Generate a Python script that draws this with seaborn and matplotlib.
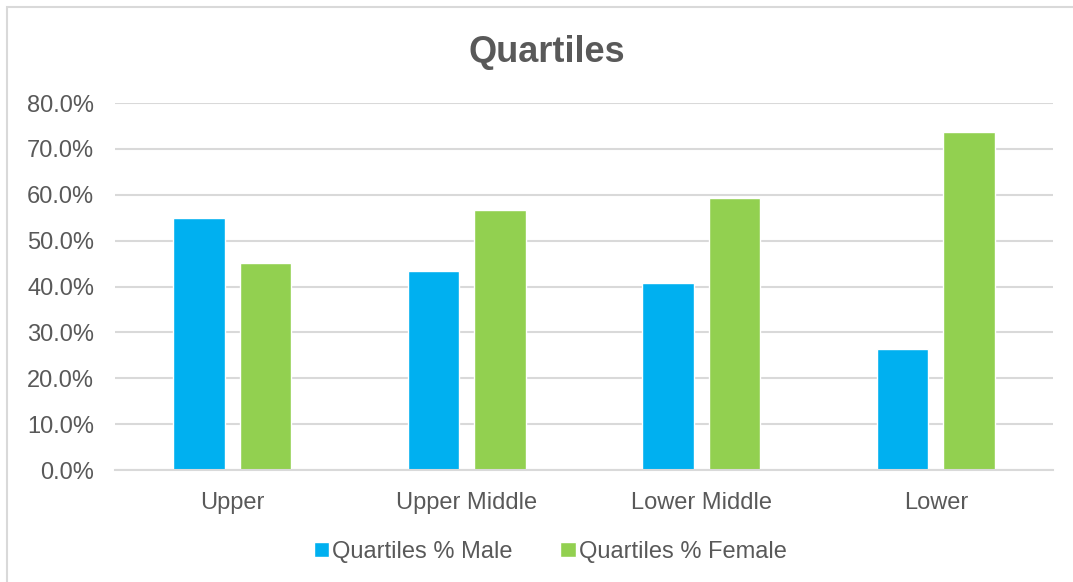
import pandas as pd
import seaborn as sns
import matplotlib.pyplot as plt
from matplotlib.patches import Rectangle
from matplotlib.ticker import PercentFormatter

# --- data ---
categories = ['Upper', 'Upper Middle', 'Lower Middle', 'Lower']
male = [0.549, 0.434, 0.407, 0.263]
female = [0.451, 0.566, 0.593, 0.737]
series = ['Quartiles % Male', 'Quartiles % Female']
colors = ['#00b0f0', '#92d050']

df = pd.DataFrame({
    'quartile': categories * 2,
    'value': male + female,
    'series': [series[0]] * len(categories) + [series[1]] * len(categories),
})

sns.set_style("white")
plt.rcParams['font.family'] = ['Liberation Sans', 'DejaVu Sans']
grey = '#595959'

fig = plt.figure(figsize=(10.73, 5.82), dpi=100)
ax = fig.add_axes([0.1072, 0.1924, 0.8742, 0.6306])

sns.barplot(data=df, x='quartile', y='value', hue='series',
            palette=dict(zip(series, colors)), width=0.57, gap=0.23,
            saturation=1, ax=ax, legend=True)

ax.set_ylim(0, 0.8)
ax.set_yticks([i / 10 for i in range(9)])
ax.yaxis.set_major_formatter(PercentFormatter(1.0, decimals=1))
ax.grid(axis='y', color='#d9d9d9', linewidth=1.5)
ax.set_axisbelow(True)
for s in ['top', 'right', 'left']:
    ax.spines[s].set_visible(False)
ax.spines['bottom'].set_color('#d9d9d9')
ax.spines['bottom'].set_linewidth(1.5)
ax.set_xlabel('')
ax.set_ylabel('')
ax.tick_params(axis='both', length=0, labelsize=17, colors=grey)
ax.tick_params(axis='y', pad=15)
ax.tick_params(axis='x', pad=16)

# legend below
ax.legend(loc='upper center', bbox_to_anchor=(0.464, -0.135), ncol=2, frameon=False,
          fontsize=17, labelcolor=grey, handlelength=0.65, handleheight=0.65,
          handletextpad=0.15, columnspacing=2.0)

fig.text(0.51, 0.91, 'Quartiles', ha='center', va='center', fontsize=26,
         fontweight='bold', color=grey)

# chart border like the original frame
fig.add_artist(Rectangle((7 / 1073, -0.1), 1.2, 1 - 7 / 582 + 0.1,
                         transform=fig.transFigure, fill=False,
                         edgecolor='#d9d9d9', linewidth=1.5))

plt.savefig('out.png', dpi=100)
